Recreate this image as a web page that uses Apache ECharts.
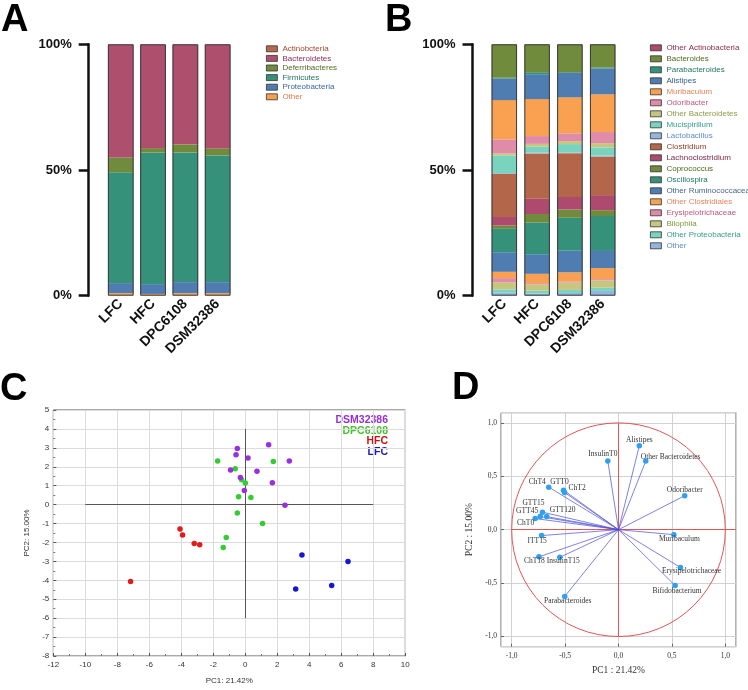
<!DOCTYPE html>
<html>
<head>
<meta charset="utf-8">
<title>Gut microbiota composition and PCA</title>
<script src="https://cdn.jsdelivr.net/npm/echarts@6.0.0/dist/echarts.min.js"></script>
<style>
  html, body { margin: 0; padding: 0; background: #fff; }
  #wrap { position: relative; width: 748px; height: 690px; overflow: hidden; }
  .panel { position: absolute; }
  #panel-a { left: 0; top: 0; width: 374px; height: 368px; }
  #panel-b { left: 374px; top: 0; width: 374px; height: 368px; }
  #panel-c { left: 0; top: 368px; width: 440px; height: 322px; }
  #panel-d { left: 440px; top: 368px; width: 308px; height: 322px; }
</style>
</head>
<body>
<div id="wrap">
  <div class="panel" id="panel-a"></div>
  <div class="panel" id="panel-b"></div>
  <div class="panel" id="panel-c"></div>
  <div class="panel" id="panel-d"></div>
</div>
<script>
'use strict';

const groups = ['LFC', 'HFC', 'DPC6108', 'DSM32386'];
const percentTicks = [0, 50, 100];

// Panel A - phylum relative abundance (%), order: LFC, HFC, DPC6108, DSM32386
const actinobacteria = [0.1, 0.1, 0.1, 0.1];
const bacteroidetes = [44.9, 41.2, 39.7, 41.3];
const deferribacteres = [5.9, 1.8, 3.2, 2.8];
const firmicutes = [44.1, 52.3, 51.6, 50.4];
const proteobacteria = [4.0, 3.9, 4.4, 4.4];
const phylumOther = [1.0, 0.7, 1.0, 1.0];

// Panel B - genus relative abundance (%)
const otherActinobacteria = [0, 0, 0, 0];
const bacteroides = [13.3, 11.1, 11.1, 9.2];
const parabacteroides = [0.3, 0.8, 0.3, 0.4];
const alistipes = [8.6, 9.9, 9.7, 10.3];
const muribaculum = [15.6, 14.7, 14.3, 15.0];
const odoribacter = [5.6, 3.1, 3.1, 4.4];
const otherBacteroidetes = [0.9, 1.1, 1.2, 1.7];
const mucispirillum = [6.9, 2.4, 3.3, 3.3];
const lactobacillus = [0.3, 0.3, 0.3, 0.3];
const clostridium = [17.2, 18.0, 17.4, 15.4];
const lachnoclostridium = [3.4, 6.1, 5.0, 6.0];
const coprococcus = [1.3, 3.4, 3.3, 2.3];
const oscillospira = [9.3, 12.6, 13.1, 13.9];
const otherRuminococcaceae = [7.8, 7.8, 8.6, 6.8];
const otherClostridiales = [2.5, 3.7, 3.6, 4.4];
const erysipelotrichaceae = [1.6, 0.5, 0.5, 0.5];
const bilophila = [2.9, 2.5, 2.9, 2.9];
const otherProteobacteria = [1.3, 1.1, 1.2, 1.3];
const genusOther = [1.2, 0.9, 1.1, 1.9];

// Panel C - PCA scores [PC1, PC2]
const scoresDSM32386 = [[-0.5, 2.97], [-0.58, 2.64], [1.46, 3.16], [0.17, 2.47], [2.75, 2.31], [-0.92, 1.83],
  [0.73, 1.76], [-0.31, 1.43], [1.69, 1.15], [-0.06, 0.75], [2.48, -0.04]];
const scoresDPC6108 = [[-1.73, 2.31], [1.75, 2.28], [-0.63, 1.9], [-0.23, 1.31], [0.0, 1.14], [-0.42, 0.42],
  [0.35, 0.37], [-0.5, -0.44], [1.08, -1.0], [-1.19, -1.74], [-1.38, -2.26]];
const scoresHFC = [[-4.08, -1.29], [-3.92, -1.6], [-3.19, -2.05], [-2.85, -2.12], [-7.17, -4.06]];
const scoresLFC = [[3.54, -2.66], [6.42, -3.0], [5.4, -4.27], [3.15, -4.46]];

// Panel D - loadings
const loadingNames = ['Alistipes', 'Other Bacteroidetes', 'InsulinT0', 'Odoribacter', 'ChT4', 'GTT0', 'ChT2',
  'GTT15', 'GTT45', 'GTT120', 'ChT0', 'ITT15', 'ChT18', 'InsulinT15', 'Muribaculum', 'Erysipelotrichaceae',
  'Bifidobacterium', 'Parabacteroides'];
const loadingPC1 = [0.195, 0.255, -0.10, 0.62, -0.653, -0.515, -0.505, -0.712, -0.733, -0.672, -0.78, -0.72,
  -0.745, -0.55, 0.518, 0.58, 0.53, -0.503];
const loadingPC2 = [0.79, 0.645, 0.645, 0.32, 0.40, 0.372, 0.35, 0.165, 0.123, 0.123, 0.105, -0.055,
  -0.255, -0.26, -0.047, -0.355, -0.525, -0.627];

const sans = '"Liberation Sans", Arial, sans-serif';
const serif = '"Liberation Serif", "Times New Roman", serif';

const panelLetter = (text, x, y) => ({
    type: 'text', left: x, top: y,
    style: { text, font: 'bold 38px ' + sans, fill: '#000' }
});

// Stacked percentage bars (A and B)
const stackedPanel = (el, layout, rows, letter) => {
    const chart = echarts.init(document.getElementById(el));
    const series = rows.slice().reverse().map(([name, data, color]) => ({
        name, type: 'bar', stack: 'total', data, barWidth: layout.barWidth,
        itemStyle: { color }, emphasis: { disabled: true }
    }));
    // dark outline round each whole bar
    series.push({
        type: 'bar', data: groups.map(() => percentTicks[2]), barWidth: layout.barWidth, barGap: '-100%',
        silent: true, z: 5,
        itemStyle: { color: 'rgba(0,0,0,0)', borderColor: '#3c3c3c', borderWidth: 1 }
    });

    chart.setOption({
        animation: false,
        textStyle: { fontFamily: sans },
        graphic: [panelLetter(letter, layout.letterX, layout.letterY)],
        grid: { left: layout.left, top: 44.3, width: layout.width, height: 251.4 },
        legend: {
            orient: 'vertical', left: layout.legendLeft, top: layout.legendTop,
            itemWidth: 11, itemHeight: 6, itemGap: layout.legendGap, itemTextGap: 5,
            icon: 'rect', selectedMode: false,
            itemStyle: { borderColor: '#333', borderWidth: 0.8 },
            data: rows.map(([name, , , textColor]) => ({ name, textStyle: { color: textColor } })),
            textStyle: { fontSize: 8, lineHeight: 8, fontFamily: sans }
        },
        xAxis: {
            type: 'category', data: groups,
            axisLine: { show: false }, axisTick: { show: false },
            axisLabel: { rotate: 45, interval: 0, margin: 6, color: '#111', fontWeight: 'bold', fontSize: 14 }
        },
        yAxis: {
            type: 'value', min: percentTicks[0], max: percentTicks[2], interval: percentTicks[1],
            offset: layout.axisOffset,
            axisLine: { show: true, lineStyle: { color: '#111', width: 2.5 } },
            axisTick: { show: true, length: 10, lineStyle: { color: '#111', width: 2.5 } },
            splitLine: { show: false },
            axisLabel: { formatter: '{value}%', color: '#111', fontWeight: 'bold', fontSize: 13, margin: 17 }
        },
        series
    });
};

// [name, data, fill, legend text colour] - listed top of stack first
stackedPanel('panel-a', {
    left: 104.6, width: 129.2, barWidth: 25.7, axisOffset: 15.9,
    legendLeft: 261, legendTop: 39.8, legendGap: 1.6, letterX: 1, letterY: 2
}, [
    ['Actinobcteria', actinobacteria, '#b5694c', '#a0482a'],
    ['Bacteroidetes', bacteroidetes, '#ae4f6e', '#8c2a50'],
    ['Deferribacteres', deferribacteres, '#6f8b3b', '#4d6a1f'],
    ['Firmicutes', firmicutes, '#36917a', '#1f7560'],
    ['Proteobacteria', proteobacteria, '#4f7db2', '#3a64a0'],
    ['Other', phylumOther, '#f7a04e', '#e07a4a']
], 'A');

stackedPanel('panel-b', {
    left: 113.9, width: 131.2, barWidth: 25.5, axisOffset: 15.4,
    legendLeft: 271, legendTop: 38.8, legendGap: 3, letterX: 11, letterY: 2
}, [
    ['Other Actinobacteria', otherActinobacteria, '#ae4a6e', '#8c2a50'],
    ['Bacteroides', bacteroides, '#6f8b3b', '#4d6a1f'],
    ['Parabacteroides', parabacteroides, '#36917a', '#1f7560'],
    ['Alistipes', alistipes, '#4f7db2', '#35598a'],
    ['Muribaculum', muribaculum, '#f9a150', '#e8845a'],
    ['Odoribacter', odoribacter, '#e08ca8', '#c2557e'],
    ['Other Bacteroidetes', otherBacteroidetes, '#c6c680', '#8f9a45'],
    ['Mucispirillum', mucispirillum, '#7ad3bf', '#34a088'],
    ['Lactobacillus', lactobacillus, '#94b6de', '#5f8cc4'],
    ['Clostridium', clostridium, '#b4664a', '#8f3d22'],
    ['Lachnoclostridium', lachnoclostridium, '#ae4a6e', '#7c1f44'],
    ['Coprococcus', coprococcus, '#6f8b3b', '#4d6a1f'],
    ['Oscillospira', oscillospira, '#36917a', '#1f7560'],
    ['Other Ruminococcaceae', otherRuminococcaceae, '#4f7db2', '#4a6590'],
    ['Other Clostridiales', otherClostridiales, '#f9a150', '#e8845a'],
    ['Erysipelotrichaceae', erysipelotrichaceae, '#e08ca8', '#c2557e'],
    ['Bilophila', bilophila, '#c6c680', '#7f9a3a'],
    ['Other Proteobacteria', otherProteobacteria, '#7ad3bf', '#34a088'],
    ['Other', genusOther, '#94b6de', '#5f8cc4']
], 'B');

// Panel C - score plot
(function scorePlot() {
    const chart = echarts.init(document.getElementById('panel-c'));
    const groupStyle = [
        ['LFC', scoresLFC, '#1515d6', '#1a1ab8'],
        ['HFC', scoresHFC, '#e31a1a', '#d01010'],
        ['DPC6108', scoresDPC6108, '#33cc33', '#44c22e'],
        ['DSM32386', scoresDSM32386, '#9a2fe0', '#9430d0']
    ];
    // right aligned coloured group names, top right of the plot
    const legendTexts = groupStyle.slice().reverse().map(([name, , , textColor], i) => ({
        type: 'text', x: 388, y: 52 + i * 10.8,
        style: { text: name, font: 'bold 10.5px ' + sans, fill: textColor, align: 'right', verticalAlign: 'middle' }
    }));
    const tickLabel = { color: '#333', fontSize: 8 };
    chart.setOption({
        animation: false,
        textStyle: { fontFamily: sans },
        graphic: [panelLetter('C', 0, 3)].concat(legendTexts),
        grid: { left: 53.3, top: 42, width: 352, height: 250, show: true, borderColor: '#555', borderWidth: 1 },
        xAxis: {
            type: 'value', min: -12, max: 10, interval: 2,
            name: 'PC1: 21.42%', nameLocation: 'middle', nameGap: 21, nameTextStyle: { fontSize: 8, color: '#333' },
            axisLine: { show: false, onZero: false },
            axisTick: { inside: true, length: 3, lineStyle: { color: '#555' } },
            minorTick: { show: true, splitNumber: 2, length: 2, lineStyle: { color: '#777' } },
            splitLine: { lineStyle: { color: '#dcdcdc' } },
            axisLabel: Object.assign({ margin: 5 }, tickLabel)
        },
        yAxis: {
            type: 'value', min: -8, max: 5, interval: 1,
            name: 'PC2: 15.00%', nameLocation: 'middle', nameGap: 17, nameRotate: 90,
            nameTextStyle: { fontSize: 8, color: '#333' },
            axisLine: { show: false, onZero: false },
            axisTick: { inside: true, length: 3, lineStyle: { color: '#555' } },
            minorTick: { show: true, splitNumber: 2, length: 2, lineStyle: { color: '#777' } },
            splitLine: { lineStyle: { color: '#dcdcdc' } },
            axisLabel: Object.assign({ margin: 4 }, tickLabel)
        },
        series: [{
            type: 'lines', coordinateSystem: 'cartesian2d', silent: true, z: 1,
            lineStyle: { color: '#555', width: 1, opacity: 1 },
            data: [{ coords: [[-10, 0], [8, 0]] }, { coords: [[0, 4], [0, -6]] }]
        }].concat(groupStyle.map(([name, data, color]) => ({
            name, type: 'scatter', data, symbolSize: 5.5, z: 3,
            itemStyle: { color, opacity: 1 }
        })))
    });
})();

// Panel D - loading plot
(function loadingPlot() {
    const chart = echarts.init(document.getElementById('panel-d'));
    // label placement round each point: [align, dx, dy]
    const labelPlace = {
        'Alistipes': ['center', 0, -6],
        'Other Bacteroidetes': ['left', -5, -4],
        'InsulinT0': ['center', -5, -7],
        'Odoribacter': ['center', 0, -6],
        'ChT4': ['right', -3, -5],
        'GTT0': ['center', -4, -8],
        'ChT2': ['left', 4, -4],
        'GTT15': ['center', -9, -9],
        'GTT45': ['right', -2, -6],
        'GTT120': ['left', 3, -7],
        'ChT0': ['right', -1, 4.5],
        'ITT15': ['center', -4.5, 5],
        'ChT18': ['center', -4.5, 4],
        'InsulinT15': ['center', 3.5, 3.5],
        'Muribaculum': ['center', 5.5, 4],
        'Erysipelotrichaceae': ['center', 11, 4],
        'Bifidobacterium': ['center', 2, 5],
        'Parabacteroides': ['center', 3, 4.5]
    };
    const points = loadingNames.map((name, i) => {
        const [align, dx, dy] = labelPlace[name];
        return {
            name, value: [loadingPC1[i], loadingPC2[i]],
            label: { align, offset: [dx, dy] }
        };
    });
    const axisCommon = {
        type: 'value', min: -1.1, max: 1.1, splitNumber: 4,
        axisLine: { show: false, onZero: false },
        axisTick: { inside: true, length: 3, lineStyle: { color: '#666' } },
        splitLine: { lineStyle: { color: '#d2d2d2' } },
        axisLabel: {
            fontFamily: serif, fontSize: 7.5, color: '#333', showMinLabel: false, showMaxLabel: false,
            formatter: (v) => v.toFixed(1).replace('.', ',')
        },
        nameLocation: 'middle', nameTextStyle: { fontFamily: serif, fontSize: 9.5, color: '#333' }
    };
    chart.setOption({
        animation: false,
        graphic: [panelLetter('D', 12, 2)],
        grid: { left: 61, top: 44.7, width: 235, height: 234, show: true, borderColor: '#666', borderWidth: 1 },
        xAxis: Object.assign({}, axisCommon, {
            name: 'PC1 : 21.42%', nameGap: 19,
            axisLabel: Object.assign({}, axisCommon.axisLabel, { margin: 5 })
        }),
        yAxis: Object.assign({}, axisCommon, {
            name: 'PC2 : 15.00%', nameGap: 21, nameRotate: 90,
            axisLabel: Object.assign({}, axisCommon.axisLabel, { margin: 4 })
        }),
        series: [
            {
                type: 'lines', coordinateSystem: 'cartesian2d', silent: true, z: 1,
                lineStyle: { color: '#e05656', width: 1, opacity: 1 },
                data: [{ coords: [[-1, 0], [1.1, 0]] }, { coords: [[0, 1], [0, -1]] }]
            },
            {
                type: 'custom', data: [[0, 0]], silent: true, z: 1,
                renderItem: (params, api) => {
                    const c = api.coord([0, 0]);
                    const edge = api.coord([1, 0]);
                    return {
                        type: 'circle',
                        shape: { cx: c[0], cy: c[1], r: edge[0] - c[0] },
                        style: { fill: 'none', stroke: '#e05656', lineWidth: 1 }
                    };
                }
            },
            {
                type: 'lines', coordinateSystem: 'cartesian2d', silent: true, z: 2,
                lineStyle: { color: '#4b4bd8', width: 1, opacity: 0.7 },
                data: loadingNames.map((n, i) => ({ coords: [[0, 0], [loadingPC1[i], loadingPC2[i]]] }))
            },
            {
                type: 'scatter', data: points, symbolSize: 5.5, z: 3,
                itemStyle: { color: '#2f9ff0', opacity: 1 },
                label: {
                    show: true, formatter: '{b}', position: 'inside', verticalAlign: 'middle',
                    fontFamily: serif, fontSize: 7.5, color: '#333'
                }
            }
        ]
    });
})();
</script>
</body>
</html>
